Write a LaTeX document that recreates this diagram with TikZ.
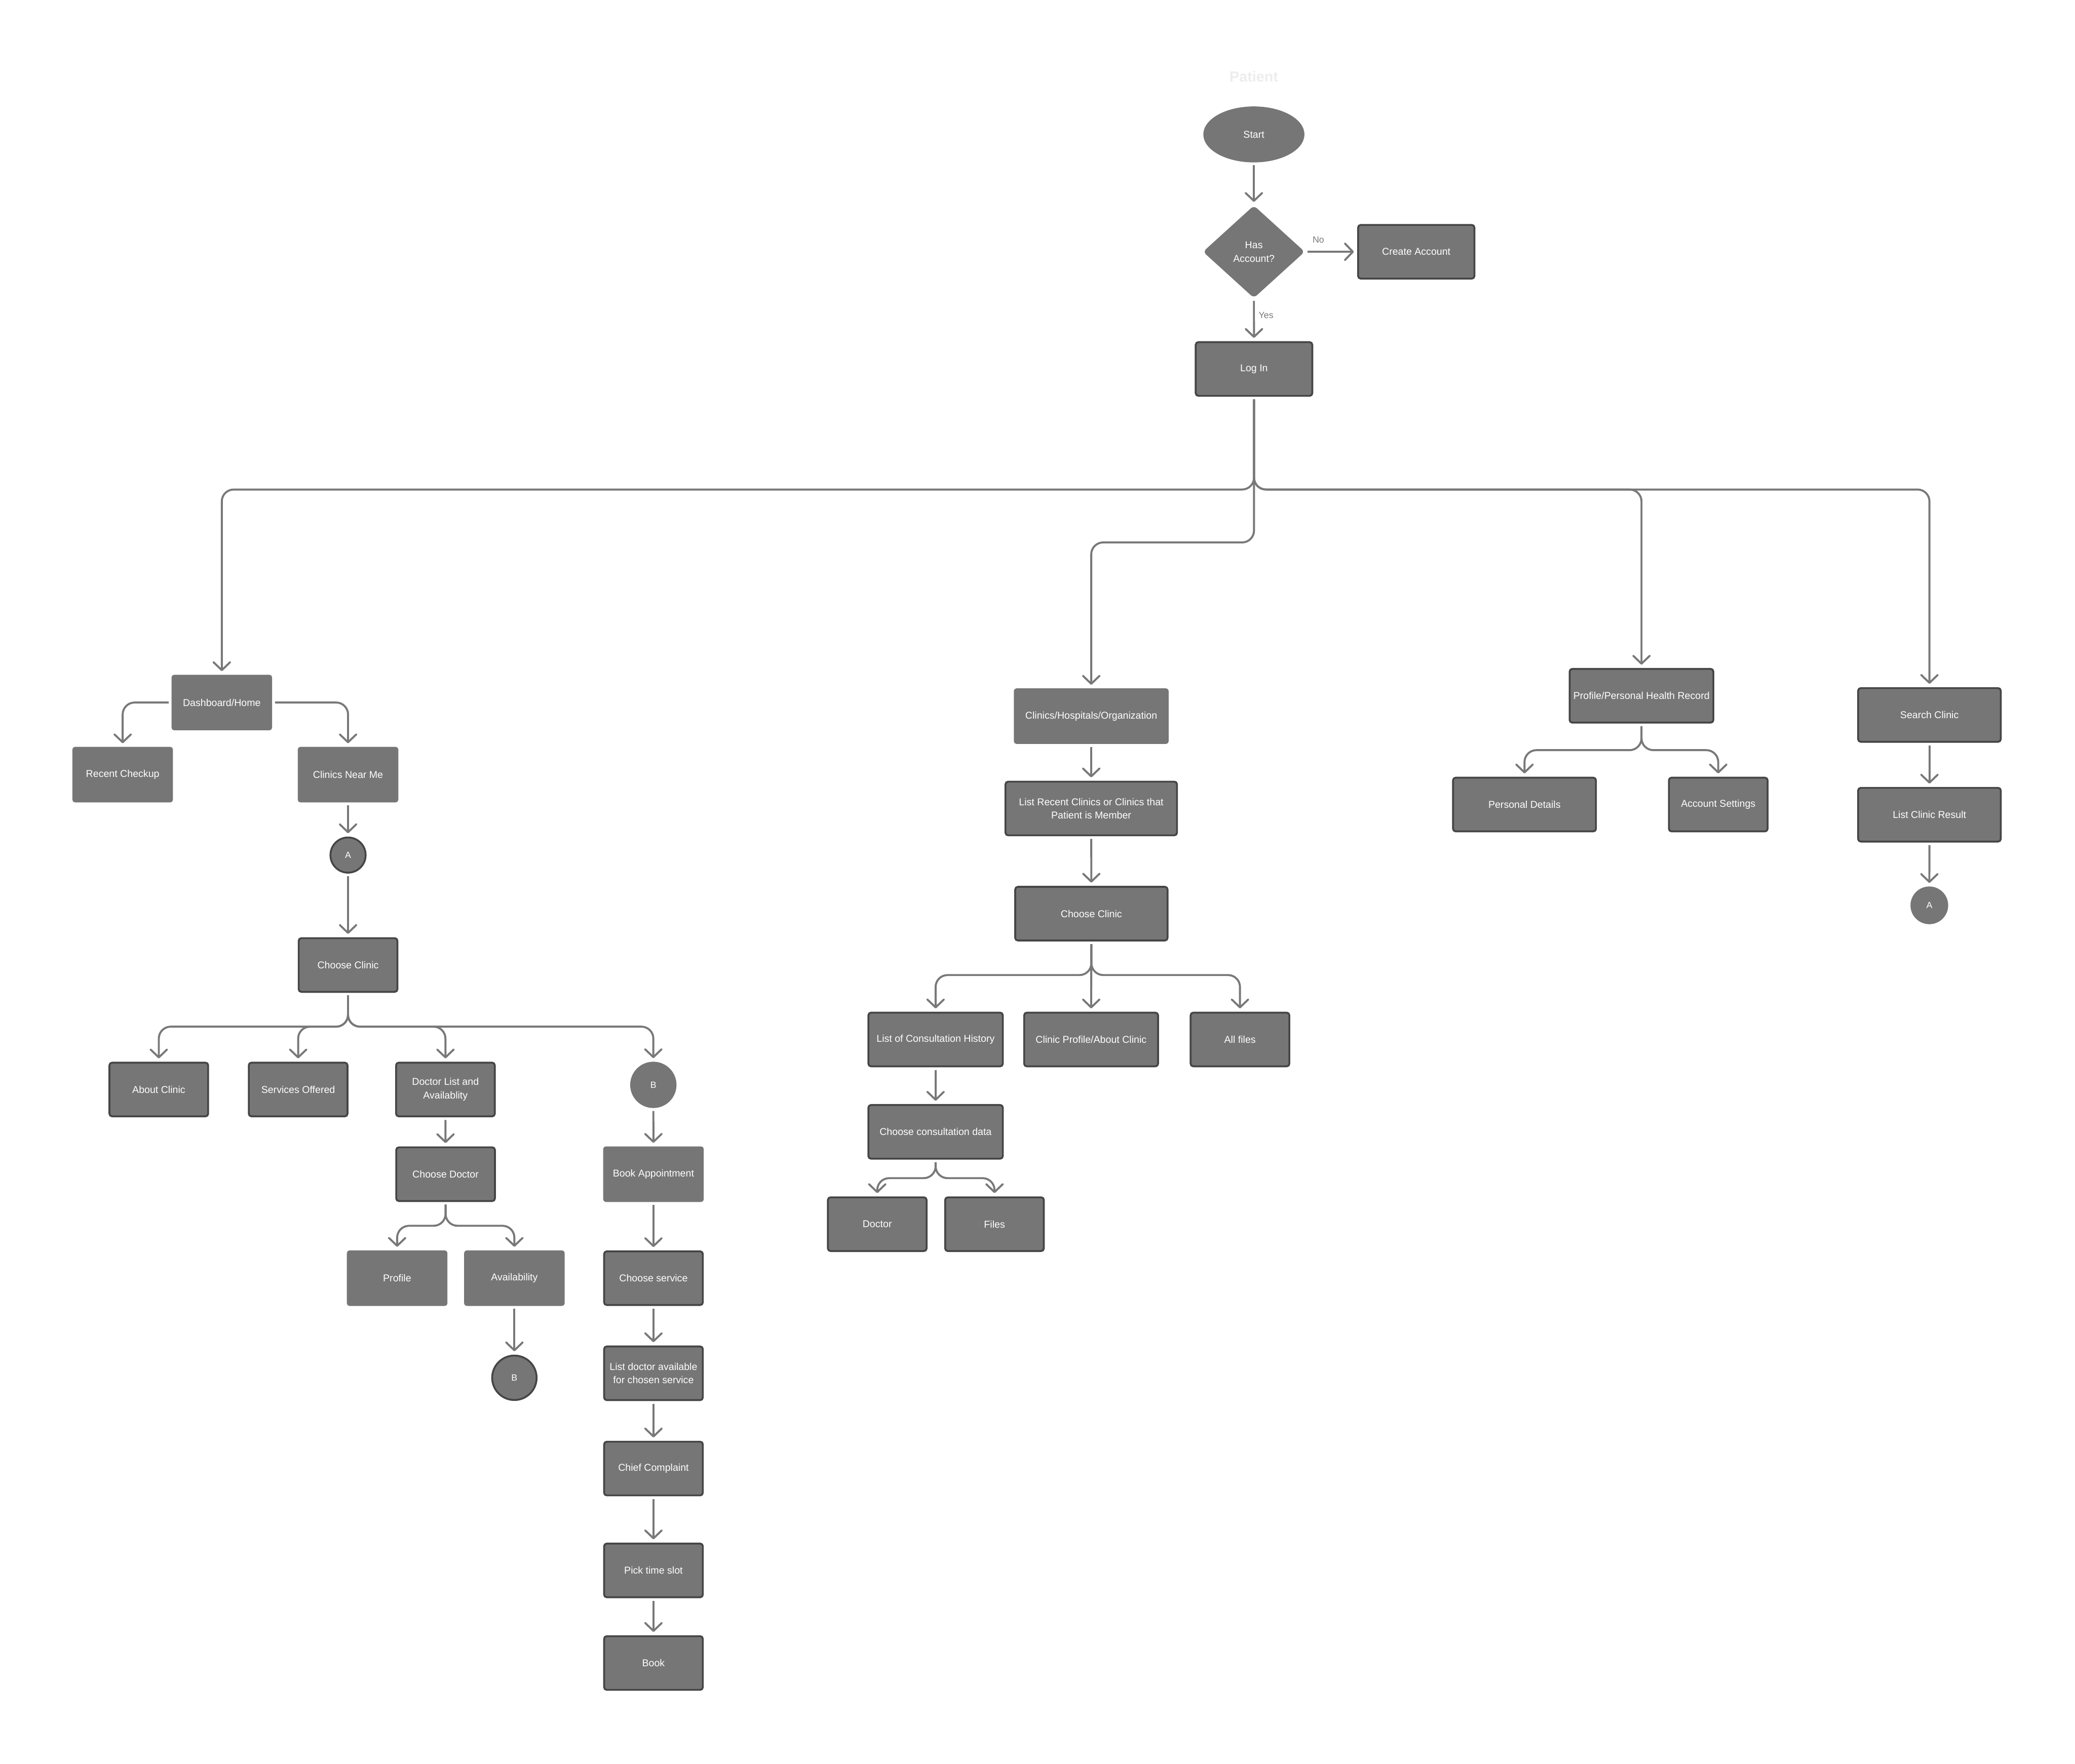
\documentclass[tikz,border=0pt]{standalone}
\usepackage{fontspec}
\setmainfont{Liberation Sans}
\usepackage{tikz}
\usetikzlibrary{arrows.meta,positioning,calc,shapes.geometric}
\definecolor{boxgray}{RGB}{118,118,118}
\definecolor{edgegray}{RGB}{69,69,69}
\definecolor{linegray}{RGB}{120,120,120}

\begin{document}
\begin{tikzpicture}[x=1pt, y=-1pt,
    box/.style={rectangle, rounded corners=2pt, fill=boxgray, text=white, inner sep=0pt,
      minimum width=76pt, minimum height=42pt, align=center,
      font=\fontsize{7.5}{10.2}\selectfont},
    boxb/.style={box, draw=edgegray, line width=1.4pt, minimum width=74.6pt, minimum height=40.6pt},
    term/.style={ellipse, fill=boxgray, text=white, inner sep=0pt,
      minimum width=76.4pt, minimum height=42.3pt, font=\fontsize{7.5}{10.2}\selectfont},
    decide/.style={diamond, rounded corners=3pt, fill=boxgray, text=white, inner sep=0pt,
      minimum width=77pt, minimum height=70pt, align=center, font=\fontsize{7.5}{10.2}\selectfont},
    conn/.style={circle, fill=boxgray, text=white, inner sep=0pt, font=\fontsize{6.8}{8}\selectfont},
    connb/.style={conn, draw=edgegray, line width=1.4pt},
    lbl/.style={text=linegray, font=\fontsize{6.8}{8}\selectfont, inner sep=0pt},
    flow/.style={draw=linegray, line width=1.5pt, rounded corners=9pt,
      -{Straight Barb[length=6pt, width=12.5pt, round]}, shorten <=2pt, shorten >=2.5pt}]
  \useasboundingbox (0,0) rectangle (1568,1333);
  \node[font=\bfseries\fontsize{11}{13}\selectfont, text=white!93!black] (title) at (947.5,58) {Patient};
  % top
  \node[term]   (start)  at (947.5,101.6) {Start};
  \node[decide] (hasacc) at (947.5,190.3) {Has\\Account?};
  \node[boxb, minimum width=87.9pt] (create) at (1070.2,190.3) {Create Account};
  \node[boxb, minimum width=88.1pt] (login)  at (947.6,278.9) {Log In};
  \node[lbl] (no)  at (996.2,181.3) {No};
  \node[lbl] (yes) at (956.7,238.4) {Yes};
  \coordinate (split)  at (947.6,370);
  \coordinate (splitM) at (947.6,410);
  % dashboard column
  \node[box]  (dash)   at (167.6,531)   {Dashboard/Home};
  \node[box]  (recent) at (92.7,585.5)  {Recent Checkup};
  \node[box]  (near)   at (263,585.5)   {Clinics Near Me};
  \node[connb, minimum size=26.6pt] (conA1) at (263,646.3) {A};
  \node[boxb] (chooseL)  at (263,729.4)   {Choose Clinic};
  \node[boxb] (about)    at (120,823.5)   {About Clinic};
  \node[boxb] (services) at (225.3,823.5) {Services Offered};
  \node[boxb] (doclist)  at (336.6,823.5) {Doctor List and\\Availablity};
  \node[conn, minimum size=35pt] (conB1) at (493.7,820) {B};
  \node[boxb] (choosedoc) at (336.7,887.5) {Choose Doctor};
  \node[box]  (profile)   at (300.1,966.1) {Profile};
  \node[box]  (avail)     at (388.7,966.1) {Availability};
  \node[connb, minimum size=33.6pt] (conB2) at (388.7,1041.4) {B};
  \node[box]  (bookapp) at (493.8,887.5) {Book Appointment};
  \node[boxb] (service) at (493.8,966.1) {Choose service};
  \node[boxb] (listdoc) at (493.8,1038)  {List doctor available\\for chosen service};
  \node[boxb] (chief)   at (493.8,1110)  {Chief Complaint};
  \node[boxb] (slot)    at (493.8,1187)  {Pick time slot};
  \node[boxb] (book)    at (493.8,1257)  {Book};
  \coordinate (forkL) at (263,776);
  \coordinate (forkD) at (336.7,926.5);
  % clinics column
  \node[box, minimum width=117pt] (clinics) at (824.6,541.3) {Clinics/Hospitals/Organization};
  \node[boxb, minimum width=129.6pt] (listrecent) at (824.6,611.1) {List Recent Clinics or Clinics that\\Patient is Member};
  \node[boxb, minimum width=115.1pt] (chooseM) at (824.7,690.6) {Choose Clinic};
  \node[boxb, minimum width=101.6pt] (history)  at (707,785.7)   {List of Consultation History};
  \node[boxb, minimum width=101.2pt] (clinprof) at (824.5,785.7) {Clinic Profile/About Clinic};
  \node[boxb] (allfiles) at (937,785.7) {All files};
  \node[boxb, minimum width=101.6pt] (choosecons) at (707,855.5) {Choose consultation data};
  \node[boxb] (doctor) at (662.9,925.3) {Doctor};
  \node[boxb] (files)  at (751.5,925.3) {Files};
  \coordinate (forkM) at (824.7,737);
  \coordinate (forkC) at (707,890.5);
  % profile and search
  \node[boxb, minimum width=108.6pt] (phr) at (1240.4,525.9) {Profile/Personal Health Record};
  \node[boxb, minimum width=108pt] (personal) at (1152,608.1) {Personal Details};
  \node[boxb] (settings) at (1298.4,608.1) {Account Settings};
  \node[boxb, minimum width=107.8pt] (search)  at (1458,540.4) {Search Clinic};
  \node[boxb, minimum width=107.8pt] (listres) at (1458,615.8) {List Clinic Result};
  \node[conn, minimum size=28.5pt] (conA2) at (1457.9,684.3) {A};
  \coordinate (forkP) at (1240.4,567);
  % connectors
  \draw[flow] (start) -- (hasacc);
  \draw[flow] (hasacc) -- (create);
  \draw[flow] (hasacc) -- (login);
  \draw[flow] (login.south) -- (split) -| (dash.north);
  \draw[flow] (login.south) -- (splitM) -| (clinics.north);
  \draw[flow] (login.south) -- (split) -| (phr.north);
  \draw[flow] (login.south) -- (split) -| (search.north);
  \draw[flow] (dash.west) -| (recent.north);
  \draw[flow] (dash.east) -| (near.north);
  \draw[flow] (near) -- (conA1);
  \draw[flow] (conA1) -- (chooseL);
  \foreach \n in {about,services,doclist,conB1}
    \draw[flow] (chooseL.south) -- (forkL) -| (\n.north);
  \draw[flow] (doclist) -- (choosedoc);
  \foreach \n in {profile,avail}
    \draw[flow] (choosedoc.south) -- (forkD) -| (\n.north);
  \draw[flow] (avail) -- (conB2);
  \draw[flow] (conB1) -- (bookapp);
  \draw[flow] (bookapp) -- (service);
  \draw[flow] (service) -- (listdoc);
  \draw[flow] (listdoc) -- (chief);
  \draw[flow] (chief) -- (slot);
  \draw[flow] (slot) -- (book);
  \draw[flow] (clinics) -- (listrecent);
  \draw[flow] (listrecent) -- (chooseM);
  \draw[flow] (chooseM.south) -- (forkM) -| (history.north);
  \draw[flow] (chooseM) -- (clinprof);
  \draw[flow] (chooseM.south) -- (forkM) -| (allfiles.north);
  \draw[flow] (history) -- (choosecons);
  \foreach \n in {doctor,files}
    \draw[flow] (choosecons.south) -- (forkC) -| (\n.north);
  \foreach \n in {personal,settings}
    \draw[flow] (phr.south) -- (forkP) -| (\n.north);
  \draw[flow] (search) -- (listres);
  \draw[flow] (listres) -- (conA2);
\end{tikzpicture}
\end{document}
